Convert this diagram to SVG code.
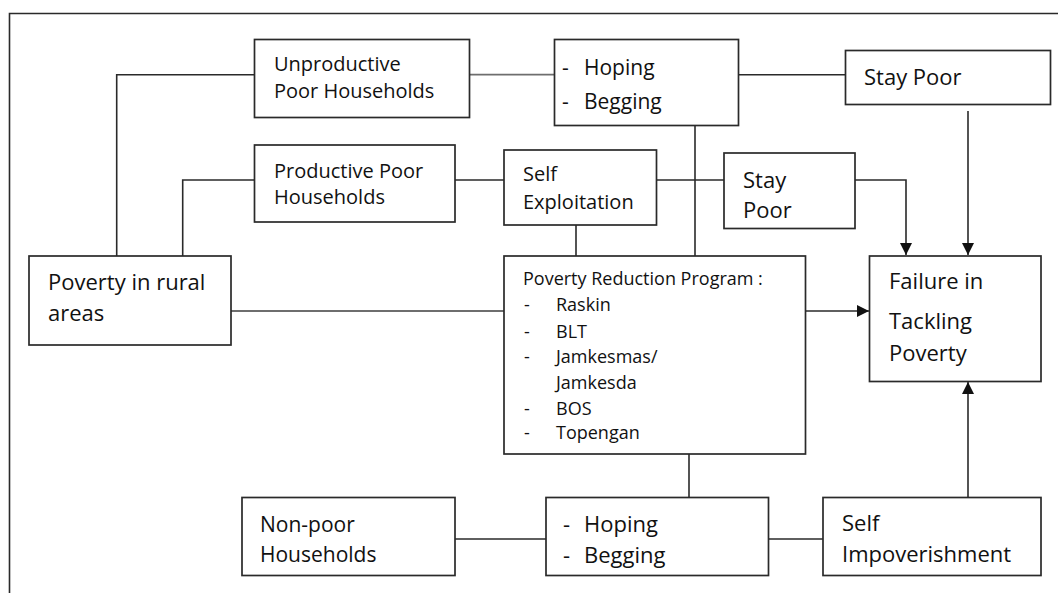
<svg xmlns="http://www.w3.org/2000/svg" width="1058" height="593" viewBox="0 0 1058 593">
<style>
.box{fill:#fff;stroke:#2a2a2a;stroke-width:1.7}
.ln{fill:none;stroke:#2a2a2a;stroke-width:1.6}
.gl{fill:none;stroke:#6e6e6e;stroke-width:1.8}
text{font-family:"Open Sans","Noto Sans","Liberation Sans",sans-serif;fill:#111}
.f20{font-size:20px}.f21{font-size:21px}.f22{font-size:22px}.f18{font-size:18px}
</style>
<defs>
<marker id="arr" markerWidth="12" markerHeight="12" refX="12" refY="6" orient="auto" markerUnits="userSpaceOnUse">
<path d="M0,0 L12,6 L0,12 z" fill="#111"/>
</marker>
</defs>
<rect x="0" y="0" width="1058" height="593" fill="#fff"/>
<path d="M9.5,593 V13.5 H1058" fill="none" stroke="#2a2a2a" stroke-width="1.6"/>

<g id="connectors">
<polyline class="ln" points="254,74.7 116.7,74.7 116.7,256"/>
<polyline class="ln" points="254,180 182.7,180 182.7,256"/>
<line class="gl" x1="470" y1="74.7" x2="554" y2="74.7"/>
<line class="ln" x1="739" y1="74.7" x2="845" y2="74.7"/>
<line class="ln" x1="455" y1="180" x2="504" y2="180"/>
<line class="ln" x1="657" y1="180" x2="724" y2="180"/>
<line class="ln" x1="695" y1="126" x2="695" y2="256"/>
<line class="ln" x1="576" y1="225" x2="576" y2="256"/>
<polyline class="ln" points="855,180 906,180 906,255" marker-end="url(#arr)"/>
<line class="ln" x1="968" y1="111" x2="968" y2="255" marker-end="url(#arr)"/>
<line class="gl" x1="231" y1="311" x2="504" y2="311"/>
<line class="ln" x1="806" y1="311" x2="869" y2="311" marker-end="url(#arr)"/>
<line class="ln" x1="689" y1="454" x2="689" y2="497"/>
<line class="ln" x1="455" y1="539" x2="546" y2="539"/>
<line class="ln" x1="769" y1="539" x2="823" y2="539"/>
<line class="ln" x1="968" y1="497" x2="968" y2="382" marker-end="url(#arr)"/>
</g>

<g id="n-unproductive">
<rect class="box" x="254.5" y="39.5" width="215" height="78"/>
<text class="f20" x="274" y="71">Unproductive</text>
<text class="f20" x="274" y="97.5">Poor Households</text>
</g>

<g id="n-hoping-top">
<rect class="box" x="554.5" y="39.5" width="184" height="86"/>
<text class="f21" x="562" y="75">-</text>
<text class="f21" x="584" y="75">Hoping</text>
<text class="f21" x="562" y="109">-</text>
<text class="f21" x="584" y="109">Begging</text>
</g>

<g id="n-staypoor-top">
<rect class="box" x="845.5" y="50.5" width="205" height="54"/>
<text class="f22" x="864" y="85">Stay Poor</text>
</g>

<g id="n-productive">
<rect class="box" x="254.5" y="145" width="200.5" height="77"/>
<text class="f20" x="274" y="177.5">Productive Poor</text>
<text class="f20" x="274" y="203.5">Households</text>
</g>

<g id="n-selfexploitation">
<rect class="box" x="504" y="150" width="152.5" height="75"/>
<text class="f20" x="523" y="181">Self</text>
<text class="f20" x="523" y="208.5">Exploitation</text>
</g>

<g id="n-staypoor-mid">
<rect class="box" x="724" y="153" width="131" height="75.5"/>
<text class="f22" x="743" y="188">Stay</text>
<text class="f22" x="743" y="217.5">Poor</text>
</g>

<g id="n-rural">
<rect class="box" x="29" y="256" width="202" height="89"/>
<text class="f22" x="48" y="289.5">Poverty in rural</text>
<text class="f22" x="48" y="320.5">areas</text>
</g>

<g id="n-program">
<rect class="box" x="504" y="256" width="301.5" height="198"/>
<text class="f18" x="523" y="285">Poverty Reduction Program :</text>
<text class="f18" x="524" y="311">-</text><text class="f18" x="556" y="311">Raskin</text>
<text class="f18" x="524" y="338">-</text><text class="f18" x="556" y="338">BLT</text>
<text class="f18" x="524" y="363">-</text><text class="f18" x="556" y="363">Jamkesmas/</text>
<text class="f18" x="556" y="389">Jamkesda</text>
<text class="f18" x="524" y="414.5">-</text><text class="f18" x="556" y="414.5">BOS</text>
<text class="f18" x="524" y="439">-</text><text class="f18" x="556" y="439">Topengan</text>
</g>

<g id="n-failure">
<rect class="box" x="869.5" y="256" width="171.5" height="125.5"/>
<text class="f22" x="889" y="289">Failure in</text>
<text class="f22" x="889" y="329">Tackling</text>
<text class="f22" x="889" y="361">Poverty</text>
</g>

<g id="n-nonpoor">
<rect class="box" x="242" y="497.5" width="213" height="78"/>
<text class="f21" x="260" y="532">Non-poor</text>
<text class="f21" x="260" y="562">Households</text>
</g>

<g id="n-hoping-bottom">
<rect class="box" x="546" y="497.5" width="222.5" height="78"/>
<text class="f22" x="563" y="532">-</text>
<text class="f22" x="584" y="532">Hoping</text>
<text class="f22" x="563" y="563">-</text>
<text class="f22" x="584" y="563">Begging</text>
</g>

<g id="n-selfimpoverishment">
<rect class="box" x="823" y="497.5" width="218" height="78"/>
<text class="f22" x="842" y="531">Self</text>
<text class="f22" x="842" y="562">Impoverishment</text>
</g>
</svg>
